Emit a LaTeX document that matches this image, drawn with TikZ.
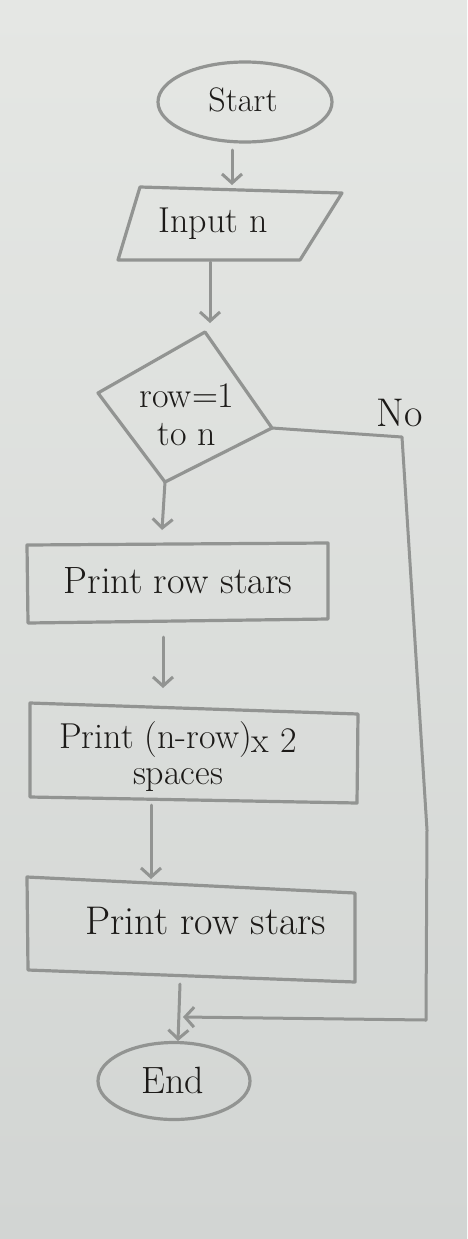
\documentclass[tikz,border=0pt]{standalone}
\usetikzlibrary{arrows.meta,shapes.geometric}
\definecolor{paper}{HTML}{E5E7E4}
\definecolor{paperb}{HTML}{D2D5D3}
\definecolor{pencil}{HTML}{929492}
\definecolor{ink}{HTML}{1C1A18}
\begin{document}
\begin{tikzpicture}[x=1pt,y=-1pt,
  shapeline/.style={draw=pencil,line width=3.2pt,line join=round,line cap=round},
  flow/.style={draw=pencil,line width=3pt,line cap=round,
    -{Straight Barb[length=9pt,width=20pt,line width=3pt]}},
  plain/.style={draw=pencil,line width=3pt,line cap=round,line join=round},
  lbl/.style={text=ink,font=\fontsize{36}{38}\selectfont,align=center,inner sep=0pt}]
\fill[top color=paper,bottom color=paperb] (0,0) rectangle (467,1239);
\useasboundingbox (0,0) rectangle (467,1239);

% Start
\node[shapeline,ellipse,minimum width=174pt,minimum height=80pt] (start) at (245,102) {};
\node[lbl,font=\fontsize{34}{36}\selectfont] (startt) at (243,100) {Start};

% Input
\coordinate (in1) at (140,187); \coordinate (in2) at (342,193);
\coordinate (in3) at (300,260); \coordinate (in4) at (118,260);
\draw[shapeline] (in1) -- (in2) -- (in3) -- (in4) -- cycle;
\node[lbl] (input) at (213,224) {Input n};

% Decision
\coordinate (dT) at (205,332); \coordinate (dR) at (272,428);
\coordinate (dB) at (165,482); \coordinate (dL) at (98,393);
\draw[shapeline] (dT) -- (dR) -- (dB) -- (dL) -- cycle;
\node[lbl] (dec) at (187,415) {row=1\\to n};
\node[lbl,font=\fontsize{40}{42}\selectfont] (no) at (400,413) {No};

% Box 1
\coordinate (b1a) at (27,545); \coordinate (b1b) at (328,543);
\coordinate (b1c) at (328,619); \coordinate (b1d) at (28,623);
\draw[shapeline] (b1a) -- (b1b) -- (b1c) -- (b1d) -- cycle;
\node[lbl,font=\fontsize{38}{40}\selectfont] (box1) at (178,581) {Print row stars};

% Box 2
\coordinate (b2a) at (30,703); \coordinate (b2b) at (358,714);
\coordinate (b2c) at (357,803); \coordinate (b2d) at (30,797);
\draw[shapeline] (b2a) -- (b2b) -- (b2c) -- (b2d) -- cycle;
\node[lbl] (box2) at (178,757) {Print (n-row)\raisebox{-0.25ex}{x 2}\\[-2pt]spaces};

% Box 3
\coordinate (b3a) at (27,877); \coordinate (b3b) at (355,893);
\coordinate (b3c) at (355,982); \coordinate (b3d) at (28,970);
\draw[shapeline] (b3a) -- (b3b) -- (b3c) -- (b3d) -- cycle;
\node[lbl,font=\fontsize{40}{42}\selectfont] (box3) at (206,921) {Print row stars};

% End
\node[shapeline,ellipse,minimum width=152pt,minimum height=77pt] (end) at (174,1081) {};
\node[lbl,font=\fontsize{38}{40}\selectfont] (endt) at (173,1080) {End};

% Connectors
\coordinate (a1s) at (232,150); \coordinate (a1e) at (232,185);
\draw[flow] (a1s) -- (a1e);
\coordinate (a2s) at (210,262); \coordinate (a2e) at (210,323);
\draw[flow] (a2s) -- (a2e);
\coordinate (a3e) at (162,530);
\draw[flow] (dB) -- (a3e);
\coordinate (a4s) at (163,637); \coordinate (a4e) at (163,688);
\draw[flow] (a4s) -- (a4e);
\coordinate (a5s) at (151,805); \coordinate (a5e) at (151,879);
\draw[flow] (a5s) -- (a5e);
\coordinate (a6s) at (180,984); \coordinate (a6e) at (178,1041);
\draw[flow] (a6s) -- (a6e);

% No branch
\coordinate (n1) at (402,437); \coordinate (n2) at (427,830);
\coordinate (n3) at (426,1020); \coordinate (n4) at (183,1017);
\draw[plain] (dR) -- (n1) -- (n2) -- (n3);
\draw[flow] (n3) -- (n4);
\end{tikzpicture}
\end{document}
